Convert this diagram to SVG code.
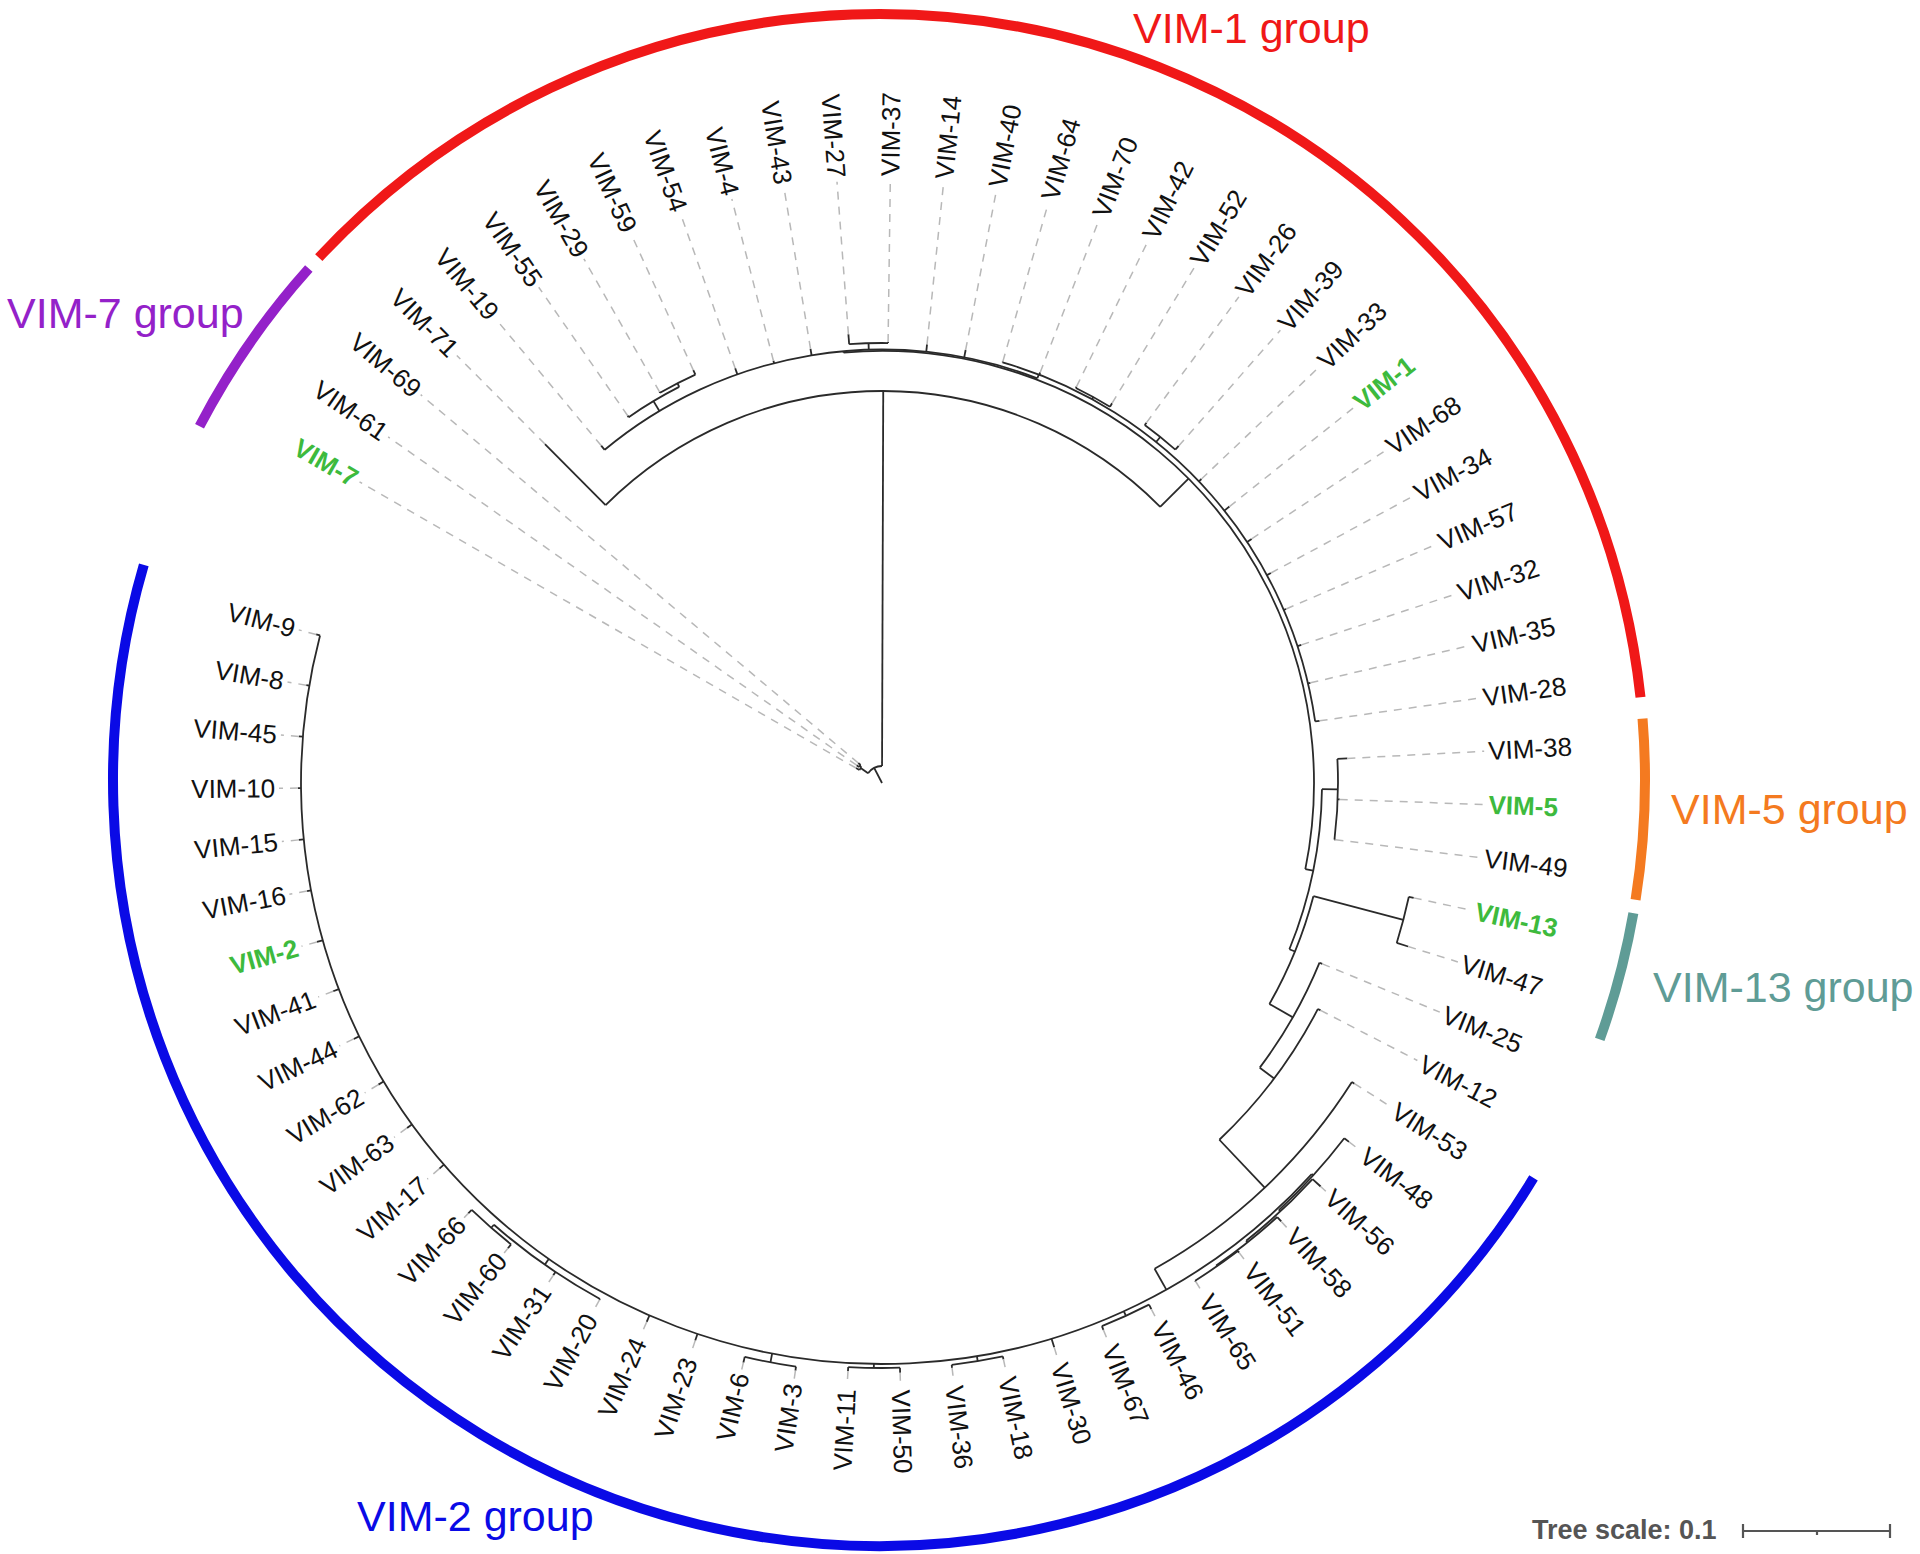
<svg xmlns="http://www.w3.org/2000/svg" width="1920" height="1554" viewBox="0 0 1920 1554">
<style>
.br{fill:none;stroke:#2a2a2a;stroke-width:1.8}
.dl{fill:none;stroke:#b8b8b8;stroke-width:1.5;stroke-dasharray:8 7}
.lb{font-family:"Liberation Sans",Arial,Helvetica,sans-serif;font-size:26px;fill:#111}
.le{text-anchor:end}
.hl{fill:#3dba3d;font-weight:bold}
.ga{fill:none;stroke-width:10}
.gl{font-family:"Liberation Sans",Arial,Helvetica,sans-serif;font-size:43px}
.sc{font-family:"Liberation Sans",Arial,Helvetica,sans-serif;font-size:27px;font-weight:bold;fill:#555}
</style>
<rect width="1920" height="1554" fill="#fff"/>
<g transform="translate(882 783)">
<g id="connectors" class="br">
<line x2="17" transform="rotate(-117.5)"/>
<circle r="17" pathLength="360" stroke-dasharray="55 400" transform="rotate(-145)"/>
<line x1="17" x2="26" transform="rotate(-145)"/>
<circle r="26" pathLength="360" stroke-dasharray="7.6 400" transform="rotate(-150.05)"/>
<line x1="26" x2="30" transform="rotate(-150.05)"/>
<line x1="26" x2="28" transform="rotate(-142.45)"/>
<circle r="28" pathLength="360" stroke-dasharray="5.07 400" transform="rotate(-144.98)"/>
<line x1="28" x2="31" transform="rotate(-144.98)"/>
<line x1="28" x2="31" transform="rotate(-139.91)"/>
<line x1="17" x2="392" transform="rotate(-89.82)"/>
<circle r="392" pathLength="360" stroke-dasharray="90.04 400" transform="rotate(-134.84)"/>
<line x1="392" x2="478" transform="rotate(-134.84)"/>
<line x1="392" x2="432" transform="rotate(-44.8)"/>
<circle r="432" pathLength="360" stroke-dasharray="106.6 400" transform="rotate(-95.1)"/>
<line x1="432" x2="433.5" transform="rotate(-95.1)"/>
<circle r="433.5" pathLength="360" stroke-dasharray="60.77 400" transform="rotate(-129.77)"/>
<line x1="433.5" x2="439" transform="rotate(-129.77)"/>
<line x1="433.5" x2="445" transform="rotate(-120.9)"/>
<circle r="445" pathLength="360" stroke-dasharray="7.6 400" transform="rotate(-124.7)"/>
<line x1="445" x2="447" transform="rotate(-124.7)"/>
<line x1="445" x2="449" transform="rotate(-117.1)"/>
<circle r="449" pathLength="360" stroke-dasharray="5.07 400" transform="rotate(-119.63)"/>
<line x1="449" x2="450" transform="rotate(-119.63)"/>
<line x1="449" x2="454" transform="rotate(-114.56)"/>
<line x1="433.5" x2="440" transform="rotate(-109.49)"/>
<line x1="433.5" x2="436" transform="rotate(-104.42)"/>
<line x1="433.5" x2="440" transform="rotate(-99.35)"/>
<line x1="433.5" x2="440" transform="rotate(-91.75)"/>
<circle r="440" pathLength="360" stroke-dasharray="5.07 400" transform="rotate(-94.28)"/>
<line x1="440" x2="450" transform="rotate(-94.28)"/>
<line x1="440" x2="441" transform="rotate(-89.21)"/>
<line x1="433.5" x2="441" transform="rotate(-84.14)"/>
<line x1="433.5" x2="441" transform="rotate(-79.07)"/>
<line x1="433.5" x2="437.5" transform="rotate(-69)"/>
<circle r="437.5" pathLength="360" stroke-dasharray="65.91 400" transform="rotate(-74)"/>
<line x1="437.5" x2="438.5" transform="rotate(-74)"/>
<line x1="437.5" x2="440" transform="rotate(-68.93)"/>
<line x1="437.5" x2="440" transform="rotate(-61.3)"/>
<circle r="440" pathLength="360" stroke-dasharray="5.07 400" transform="rotate(-63.86)"/>
<line x1="440" x2="441.5" transform="rotate(-63.86)"/>
<line x1="440" x2="444" transform="rotate(-58.79)"/>
<line x1="437.5" x2="444" transform="rotate(-51.2)"/>
<circle r="444" pathLength="360" stroke-dasharray="5.07 400" transform="rotate(-53.72)"/>
<line x1="444" x2="447" transform="rotate(-53.72)"/>
<line x1="444" x2="449" transform="rotate(-48.65)"/>
<line x1="437.5" x2="441" transform="rotate(-43.58)"/>
<line x1="437.5" x2="444" transform="rotate(-38.51)"/>
<line x1="437.5" x2="443" transform="rotate(-33.44)"/>
<line x1="437.5" x2="442" transform="rotate(-28.37)"/>
<line x1="437.5" x2="440" transform="rotate(-23.3)"/>
<line x1="437.5" x2="441.5" transform="rotate(-18.23)"/>
<line x1="437.5" x2="440" transform="rotate(-13.16)"/>
<line x1="437.5" x2="442" transform="rotate(-8.09)"/>
<line x1="432" x2="440" transform="rotate(11.5)"/>
<circle r="440" pathLength="360" stroke-dasharray="21.4 400" transform="rotate(0.8)"/>
<line x1="440" x2="456" transform="rotate(0.8)"/>
<circle r="456" pathLength="360" stroke-dasharray="10.14 400" transform="rotate(-3.02)"/>
<line x1="456" x2="466" transform="rotate(-3.02)"/>
<line x1="456" x2="458" transform="rotate(2.05)"/>
<line x1="456" x2="457" transform="rotate(7.12)"/>
<line x1="440" x2="446" transform="rotate(22.2)"/>
<circle r="446" pathLength="360" stroke-dasharray="15 400" transform="rotate(14.7)"/>
<line x1="446" x2="539" transform="rotate(14.7)"/>
<circle r="539" pathLength="360" stroke-dasharray="5.07 400" transform="rotate(12.19)"/>
<line x1="539" x2="544" transform="rotate(12.19)"/>
<line x1="539" x2="551" transform="rotate(17.26)"/>
<line x1="446" x2="473" transform="rotate(29.7)"/>
<circle r="473" pathLength="360" stroke-dasharray="14.67 400" transform="rotate(22.33)"/>
<line x1="473" x2="476" transform="rotate(22.33)"/>
<line x1="473" x2="491" transform="rotate(37)"/>
<circle r="491" pathLength="360" stroke-dasharray="19.2 400" transform="rotate(27.4)"/>
<line x1="491" x2="494" transform="rotate(27.4)"/>
<line x1="491" x2="557" transform="rotate(46.6)"/>
<circle r="557" pathLength="360" stroke-dasharray="28.23 400" transform="rotate(32.47)"/>
<line x1="557" x2="560" transform="rotate(32.47)"/>
<line x1="557" x2="581" transform="rotate(60.7)"/>
<circle r="581" pathLength="360" stroke-dasharray="152.41 400" transform="rotate(42.3)"/>
<line x1="581" x2="583" transform="rotate(42.3)"/>
<circle r="583" pathLength="360" stroke-dasharray="9.56 400" transform="rotate(37.54)"/>
<line x1="583" x2="589" transform="rotate(37.54)"/>
<line x1="583" x2="585" transform="rotate(47.1)"/>
<circle r="585" pathLength="360" stroke-dasharray="8.89 400" transform="rotate(42.61)"/>
<line x1="585" x2="596" transform="rotate(42.61)"/>
<line x1="585" x2="587" transform="rotate(51.5)"/>
<circle r="587" pathLength="360" stroke-dasharray="7.62 400" transform="rotate(47.68)"/>
<line x1="587" x2="593" transform="rotate(47.68)"/>
<line x1="587" x2="588" transform="rotate(55.3)"/>
<circle r="588" pathLength="360" stroke-dasharray="5.07 400" transform="rotate(52.75)"/>
<line x1="588" x2="590" transform="rotate(52.75)"/>
<line x1="588" x2="589" transform="rotate(57.82)"/>
<line x1="581" x2="586" transform="rotate(65.4)"/>
<circle r="586" pathLength="360" stroke-dasharray="5.07 400" transform="rotate(62.89)"/>
<line x1="586" x2="591" transform="rotate(62.89)"/>
<line x1="586" x2="590" transform="rotate(67.96)"/>
<line x1="581" x2="590" transform="rotate(73.03)"/>
<line x1="581" x2="586" transform="rotate(80.6)"/>
<circle r="586" pathLength="360" stroke-dasharray="5.07 400" transform="rotate(78.1)"/>
<line x1="586" x2="589" transform="rotate(78.1)"/>
<line x1="586" x2="589" transform="rotate(83.17)"/>
<line x1="581" x2="585" transform="rotate(90.8)"/>
<circle r="585" pathLength="360" stroke-dasharray="5.07 400" transform="rotate(88.24)"/>
<line x1="585" x2="590" transform="rotate(88.24)"/>
<line x1="585" x2="589" transform="rotate(93.31)"/>
<line x1="581" x2="590" transform="rotate(100.9)"/>
<circle r="590" pathLength="360" stroke-dasharray="5.07 400" transform="rotate(98.38)"/>
<line x1="590" x2="594" transform="rotate(98.38)"/>
<line x1="590" x2="596" transform="rotate(103.45)"/>
<line x1="581" x2="588" transform="rotate(108.52)"/>
<line x1="581" x2="588" transform="rotate(113.59)"/>
<line x1="581" x2="588" transform="rotate(125)"/>
<circle r="588" pathLength="360" stroke-dasharray="12.64 400" transform="rotate(118.66)"/>
<line x1="588" x2="589" transform="rotate(118.66)"/>
<line x1="588" x2="592" transform="rotate(123.73)"/>
<line x1="588" x2="592" transform="rotate(131.3)"/>
<circle r="592" pathLength="360" stroke-dasharray="5.07 400" transform="rotate(128.8)"/>
<line x1="592" x2="597" transform="rotate(128.8)"/>
<line x1="592" x2="597" transform="rotate(133.87)"/>
<line x1="581" x2="587" transform="rotate(138.94)"/>
<line x1="581" x2="587" transform="rotate(144.01)"/>
<line x1="581" x2="587" transform="rotate(149.08)"/>
<line x1="581" x2="587" transform="rotate(154.15)"/>
<line x1="581" x2="587" transform="rotate(159.22)"/>
<line x1="581" x2="587" transform="rotate(164.29)"/>
<line x1="581" x2="585" transform="rotate(169.36)"/>
<line x1="581" x2="586" transform="rotate(174.43)"/>
<line x1="581" x2="584" transform="rotate(179.5)"/>
<line x1="581" x2="585" transform="rotate(184.57)"/>
<line x1="581" x2="584" transform="rotate(189.64)"/>
<line x1="581" x2="585" transform="rotate(194.71)"/>
</g>
<g id="leaves">
<g id="leaf-vim-7"><line class="dl" x1="30" x2="603" transform="rotate(-150.05)"/><text class="lb le hl" x="-607" y="9" transform="rotate(29.95)">VIM-7</text></g>
<g id="leaf-vim-61"><line class="dl" x1="31" x2="603" transform="rotate(-144.98)"/><text class="lb le" x="-607" y="9" transform="rotate(35.02)">VIM-61</text></g>
<g id="leaf-vim-69"><line class="dl" x1="31" x2="603" transform="rotate(-139.91)"/><text class="lb le" x="-607" y="9" transform="rotate(40.09)">VIM-69</text></g>
<g id="leaf-vim-71"><line class="dl" x1="478" x2="603" transform="rotate(-134.84)"/><text class="lb le" x="-607" y="9" transform="rotate(45.16)">VIM-71</text></g>
<g id="leaf-vim-19"><line class="dl" x1="439" x2="603" transform="rotate(-129.77)"/><text class="lb le" x="-607" y="9" transform="rotate(50.23)">VIM-19</text></g>
<g id="leaf-vim-55"><line class="dl" x1="447" x2="603" transform="rotate(-124.7)"/><text class="lb le" x="-607" y="9" transform="rotate(55.3)">VIM-55</text></g>
<g id="leaf-vim-29"><line class="dl" x1="450" x2="603" transform="rotate(-119.63)"/><text class="lb le" x="-607" y="9" transform="rotate(60.37)">VIM-29</text></g>
<g id="leaf-vim-59"><line class="dl" x1="454" x2="603" transform="rotate(-114.56)"/><text class="lb le" x="-607" y="9" transform="rotate(65.44)">VIM-59</text></g>
<g id="leaf-vim-54"><line class="dl" x1="440" x2="603" transform="rotate(-109.49)"/><text class="lb le" x="-607" y="9" transform="rotate(70.51)">VIM-54</text></g>
<g id="leaf-vim-4"><line class="dl" x1="436" x2="603" transform="rotate(-104.42)"/><text class="lb le" x="-607" y="9" transform="rotate(75.58)">VIM-4</text></g>
<g id="leaf-vim-43"><line class="dl" x1="440" x2="603" transform="rotate(-99.35)"/><text class="lb le" x="-607" y="9" transform="rotate(80.65)">VIM-43</text></g>
<g id="leaf-vim-27"><line class="dl" x1="450" x2="603" transform="rotate(-94.28)"/><text class="lb le" x="-607" y="9" transform="rotate(85.72)">VIM-27</text></g>
<g id="leaf-vim-37"><line class="dl" x1="441" x2="603" transform="rotate(-89.21)"/><text class="lb" x="607" y="9" transform="rotate(-89.21)">VIM-37</text></g>
<g id="leaf-vim-14"><line class="dl" x1="441" x2="603" transform="rotate(-84.14)"/><text class="lb" x="607" y="9" transform="rotate(-84.14)">VIM-14</text></g>
<g id="leaf-vim-40"><line class="dl" x1="441" x2="603" transform="rotate(-79.07)"/><text class="lb" x="607" y="9" transform="rotate(-79.07)">VIM-40</text></g>
<g id="leaf-vim-64"><line class="dl" x1="438.5" x2="603" transform="rotate(-74)"/><text class="lb" x="607" y="9" transform="rotate(-74)">VIM-64</text></g>
<g id="leaf-vim-70"><line class="dl" x1="440" x2="603" transform="rotate(-68.93)"/><text class="lb" x="607" y="9" transform="rotate(-68.93)">VIM-70</text></g>
<g id="leaf-vim-42"><line class="dl" x1="441.5" x2="603" transform="rotate(-63.86)"/><text class="lb" x="607" y="9" transform="rotate(-63.86)">VIM-42</text></g>
<g id="leaf-vim-52"><line class="dl" x1="444" x2="603" transform="rotate(-58.79)"/><text class="lb" x="607" y="9" transform="rotate(-58.79)">VIM-52</text></g>
<g id="leaf-vim-26"><line class="dl" x1="447" x2="603" transform="rotate(-53.72)"/><text class="lb" x="607" y="9" transform="rotate(-53.72)">VIM-26</text></g>
<g id="leaf-vim-39"><line class="dl" x1="449" x2="603" transform="rotate(-48.65)"/><text class="lb" x="607" y="9" transform="rotate(-48.65)">VIM-39</text></g>
<g id="leaf-vim-33"><line class="dl" x1="441" x2="603" transform="rotate(-43.58)"/><text class="lb" x="607" y="9" transform="rotate(-43.58)">VIM-33</text></g>
<g id="leaf-vim-1"><line class="dl" x1="444" x2="603" transform="rotate(-38.51)"/><text class="lb hl" x="607" y="9" transform="rotate(-38.51)">VIM-1</text></g>
<g id="leaf-vim-68"><line class="dl" x1="443" x2="603" transform="rotate(-33.44)"/><text class="lb" x="607" y="9" transform="rotate(-33.44)">VIM-68</text></g>
<g id="leaf-vim-34"><line class="dl" x1="442" x2="603" transform="rotate(-28.37)"/><text class="lb" x="607" y="9" transform="rotate(-28.37)">VIM-34</text></g>
<g id="leaf-vim-57"><line class="dl" x1="440" x2="603" transform="rotate(-23.3)"/><text class="lb" x="607" y="9" transform="rotate(-23.3)">VIM-57</text></g>
<g id="leaf-vim-32"><line class="dl" x1="441.5" x2="603" transform="rotate(-18.23)"/><text class="lb" x="607" y="9" transform="rotate(-18.23)">VIM-32</text></g>
<g id="leaf-vim-35"><line class="dl" x1="440" x2="603" transform="rotate(-13.16)"/><text class="lb" x="607" y="9" transform="rotate(-13.16)">VIM-35</text></g>
<g id="leaf-vim-28"><line class="dl" x1="442" x2="603" transform="rotate(-8.09)"/><text class="lb" x="607" y="9" transform="rotate(-8.09)">VIM-28</text></g>
<g id="leaf-vim-38"><line class="dl" x1="466" x2="603" transform="rotate(-3.02)"/><text class="lb" x="607" y="9" transform="rotate(-3.02)">VIM-38</text></g>
<g id="leaf-vim-5"><line class="dl" x1="458" x2="603" transform="rotate(2.05)"/><text class="lb hl" x="607" y="9" transform="rotate(2.05)">VIM-5</text></g>
<g id="leaf-vim-49"><line class="dl" x1="457" x2="603" transform="rotate(7.12)"/><text class="lb" x="607" y="9" transform="rotate(7.12)">VIM-49</text></g>
<g id="leaf-vim-13"><line class="dl" x1="544" x2="603" transform="rotate(12.19)"/><text class="lb hl" x="607" y="9" transform="rotate(12.19)">VIM-13</text></g>
<g id="leaf-vim-47"><line class="dl" x1="551" x2="603" transform="rotate(17.26)"/><text class="lb" x="607" y="9" transform="rotate(17.26)">VIM-47</text></g>
<g id="leaf-vim-25"><line class="dl" x1="476" x2="603" transform="rotate(22.33)"/><text class="lb" x="607" y="9" transform="rotate(22.33)">VIM-25</text></g>
<g id="leaf-vim-12"><line class="dl" x1="494" x2="603" transform="rotate(27.4)"/><text class="lb" x="607" y="9" transform="rotate(27.4)">VIM-12</text></g>
<g id="leaf-vim-53"><line class="dl" x1="560" x2="603" transform="rotate(32.47)"/><text class="lb" x="607" y="9" transform="rotate(32.47)">VIM-53</text></g>
<g id="leaf-vim-48"><line class="dl" x1="589" x2="603" transform="rotate(37.54)"/><text class="lb" x="607" y="9" transform="rotate(37.54)">VIM-48</text></g>
<g id="leaf-vim-56"><line class="dl" x1="596" x2="603" transform="rotate(42.61)"/><text class="lb" x="607" y="9" transform="rotate(42.61)">VIM-56</text></g>
<g id="leaf-vim-58"><line class="dl" x1="593" x2="603" transform="rotate(47.68)"/><text class="lb" x="607" y="9" transform="rotate(47.68)">VIM-58</text></g>
<g id="leaf-vim-51"><line class="dl" x1="590" x2="603" transform="rotate(52.75)"/><text class="lb" x="607" y="9" transform="rotate(52.75)">VIM-51</text></g>
<g id="leaf-vim-65"><line class="dl" x1="589" x2="603" transform="rotate(57.82)"/><text class="lb" x="607" y="9" transform="rotate(57.82)">VIM-65</text></g>
<g id="leaf-vim-46"><line class="dl" x1="591" x2="603" transform="rotate(62.89)"/><text class="lb" x="607" y="9" transform="rotate(62.89)">VIM-46</text></g>
<g id="leaf-vim-67"><line class="dl" x1="590" x2="603" transform="rotate(67.96)"/><text class="lb" x="607" y="9" transform="rotate(67.96)">VIM-67</text></g>
<g id="leaf-vim-30"><line class="dl" x1="590" x2="603" transform="rotate(73.03)"/><text class="lb" x="607" y="9" transform="rotate(73.03)">VIM-30</text></g>
<g id="leaf-vim-18"><line class="dl" x1="589" x2="603" transform="rotate(78.1)"/><text class="lb" x="607" y="9" transform="rotate(78.1)">VIM-18</text></g>
<g id="leaf-vim-36"><line class="dl" x1="589" x2="603" transform="rotate(83.17)"/><text class="lb" x="607" y="9" transform="rotate(83.17)">VIM-36</text></g>
<g id="leaf-vim-50"><line class="dl" x1="590" x2="603" transform="rotate(88.24)"/><text class="lb" x="607" y="9" transform="rotate(88.24)">VIM-50</text></g>
<g id="leaf-vim-11"><line class="dl" x1="589" x2="603" transform="rotate(93.31)"/><text class="lb le" x="-607" y="9" transform="rotate(-86.69)">VIM-11</text></g>
<g id="leaf-vim-3"><line class="dl" x1="594" x2="603" transform="rotate(98.38)"/><text class="lb le" x="-607" y="9" transform="rotate(-81.62)">VIM-3</text></g>
<g id="leaf-vim-6"><line class="dl" x1="596" x2="603" transform="rotate(103.45)"/><text class="lb le" x="-607" y="9" transform="rotate(-76.55)">VIM-6</text></g>
<g id="leaf-vim-23"><line class="dl" x1="588" x2="603" transform="rotate(108.52)"/><text class="lb le" x="-607" y="9" transform="rotate(-71.48)">VIM-23</text></g>
<g id="leaf-vim-24"><line class="dl" x1="588" x2="603" transform="rotate(113.59)"/><text class="lb le" x="-607" y="9" transform="rotate(-66.41)">VIM-24</text></g>
<g id="leaf-vim-20"><line class="dl" x1="589" x2="603" transform="rotate(118.66)"/><text class="lb le" x="-607" y="9" transform="rotate(-61.34)">VIM-20</text></g>
<g id="leaf-vim-31"><line class="dl" x1="592" x2="603" transform="rotate(123.73)"/><text class="lb le" x="-607" y="9" transform="rotate(-56.27)">VIM-31</text></g>
<g id="leaf-vim-60"><line class="dl" x1="597" x2="603" transform="rotate(128.8)"/><text class="lb le" x="-607" y="9" transform="rotate(-51.2)">VIM-60</text></g>
<g id="leaf-vim-66"><line class="dl" x1="597" x2="603" transform="rotate(133.87)"/><text class="lb le" x="-607" y="9" transform="rotate(-46.13)">VIM-66</text></g>
<g id="leaf-vim-17"><line class="dl" x1="587" x2="603" transform="rotate(138.94)"/><text class="lb le" x="-607" y="9" transform="rotate(-41.06)">VIM-17</text></g>
<g id="leaf-vim-63"><line class="dl" x1="587" x2="603" transform="rotate(144.01)"/><text class="lb le" x="-607" y="9" transform="rotate(-35.99)">VIM-63</text></g>
<g id="leaf-vim-62"><line class="dl" x1="587" x2="603" transform="rotate(149.08)"/><text class="lb le" x="-607" y="9" transform="rotate(-30.92)">VIM-62</text></g>
<g id="leaf-vim-44"><line class="dl" x1="587" x2="603" transform="rotate(154.15)"/><text class="lb le" x="-607" y="9" transform="rotate(-25.85)">VIM-44</text></g>
<g id="leaf-vim-41"><line class="dl" x1="587" x2="603" transform="rotate(159.22)"/><text class="lb le" x="-607" y="9" transform="rotate(-20.78)">VIM-41</text></g>
<g id="leaf-vim-2"><line class="dl" x1="587" x2="603" transform="rotate(164.29)"/><text class="lb le hl" x="-607" y="9" transform="rotate(-15.71)">VIM-2</text></g>
<g id="leaf-vim-16"><line class="dl" x1="585" x2="603" transform="rotate(169.36)"/><text class="lb le" x="-607" y="9" transform="rotate(-10.64)">VIM-16</text></g>
<g id="leaf-vim-15"><line class="dl" x1="586" x2="603" transform="rotate(174.43)"/><text class="lb le" x="-607" y="9" transform="rotate(-5.57)">VIM-15</text></g>
<g id="leaf-vim-10"><line class="dl" x1="584" x2="603" transform="rotate(179.5)"/><text class="lb le" x="-607" y="9" transform="rotate(-0.5)">VIM-10</text></g>
<g id="leaf-vim-45"><line class="dl" x1="585" x2="603" transform="rotate(184.57)"/><text class="lb le" x="-607" y="9" transform="rotate(4.57)">VIM-45</text></g>
<g id="leaf-vim-8"><line class="dl" x1="584" x2="603" transform="rotate(189.64)"/><text class="lb le" x="-607" y="9" transform="rotate(9.64)">VIM-8</text></g>
<g id="leaf-vim-9"><line class="dl" x1="585" x2="603" transform="rotate(194.71)"/><text class="lb le" x="-607" y="9" transform="rotate(14.71)">VIM-9</text></g>
</g>
</g>
<g id="group-arcs" transform="translate(879 780)">
<circle id="arc-vim7" class="ga" stroke="#9421c9" r="766" pathLength="360" stroke-dasharray="14.4 400" transform="rotate(-152.5)"/>
<circle id="arc-vim1" class="ga" stroke="#f01818" r="766" pathLength="360" stroke-dasharray="130.8 400" transform="rotate(-137)"/>
<circle id="arc-vim5" class="ga" stroke="#f47a20" r="766" pathLength="360" stroke-dasharray="13.6 400" transform="rotate(-4.6)"/>
<circle id="arc-vim13" class="ga" stroke="#5f9c96" r="766" pathLength="360" stroke-dasharray="9.8 400" transform="rotate(10)"/>
<circle id="arc-vim2" class="ga" stroke="#0a0ae6" r="766" pathLength="360" stroke-dasharray="165 400" transform="rotate(31.3)"/>
</g>
<g id="group-labels">
<text id="label-vim7" class="gl" x="7" y="328" fill="#9421c9">VIM-7 group</text>
<text id="label-vim1" class="gl" x="1133" y="43" fill="#f01818">VIM-1 group</text>
<text id="label-vim5" class="gl" x="1671" y="824" fill="#f47a20">VIM-5 group</text>
<text id="label-vim13" class="gl" x="1653" y="1002" fill="#5f9c96">VIM-13 group</text>
<text id="label-vim2" class="gl" x="357" y="1531" fill="#0a0ae6">VIM-2 group</text>
</g>
<g id="tree-scale">
<text class="sc" x="1532" y="1539">Tree scale: 0.1</text>
<g stroke="#555" stroke-width="2.2" fill="none">
<line x1="1743" y1="1531" x2="1890" y2="1531"/>
<line x1="1743" y1="1524" x2="1743" y2="1538"/>
<line x1="1890" y1="1524" x2="1890" y2="1538"/>
<line x1="1817" y1="1531" x2="1817" y2="1535"/>
</g>
</g>
</svg>
